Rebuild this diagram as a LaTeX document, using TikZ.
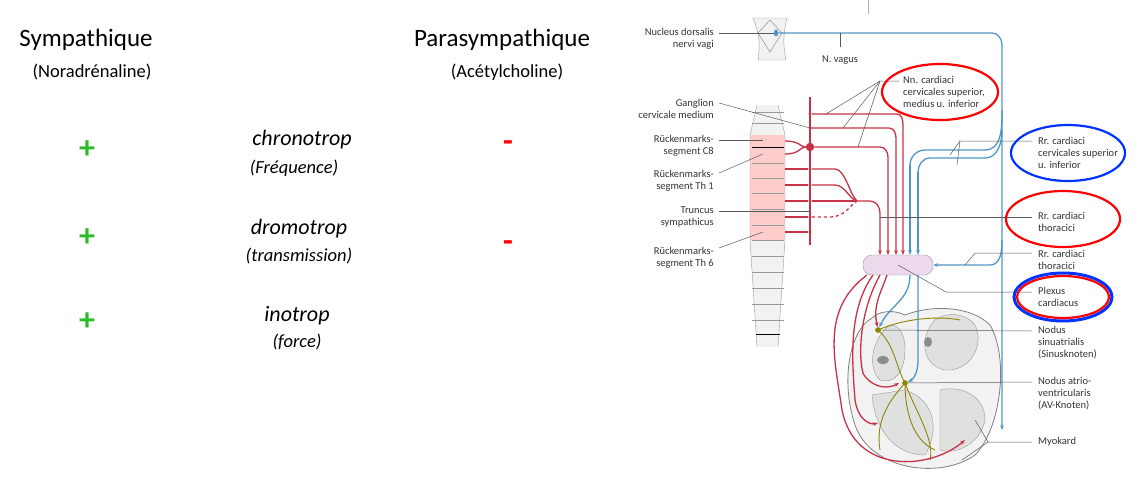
\documentclass[tikz,border=0pt]{standalone}
\usepackage{fontspec}
\setmainfont{Carlito}
\usetikzlibrary{arrows.meta,shapes.geometric}
\definecolor{symred}{RGB}{200,50,70}
\definecolor{vagblue}{RGB}{80,150,200}
\definecolor{plus}{RGB}{40,190,40}
\tikzset{
	symp/.style={draw=symred, line width=1.3pt},
	vag/.style={draw=vagblue, line width=1.3pt},
	lead/.style={draw=black!65, line width=0.5pt},
	lbl/.style={font=\fontsize{10.5}{12}\selectfont, text=black!80, align=left, anchor=west, inner sep=1pt},
	lbr/.style={font=\fontsize{10.5}{12}\selectfont, text=black!80, align=right, anchor=east, inner sep=1pt},
	ring/.style={line width=2.2pt, ellipse},
	title/.style={font=\fontsize{25}{28}\selectfont},
	sub/.style={font=\fontsize{18.5}{20}\selectfont},
	eff/.style={font=\fontsize{22}{26}\selectfont\itshape},
	effsub/.style={font=\fontsize{18.5}{20}\selectfont\itshape},
	plusmark/.style={text=plus, font=\fontsize{32}{32}\selectfont\bfseries},
	minusmark/.style={text=red, font=\fontsize{32}{32}\selectfont\bfseries},
	dot/.style={fill=symred, circle, inner sep=1.2pt},
}
\begin{document}
\begin{tikzpicture}[x=1pt, y=-1pt]
	\useasboundingbox (0,0) rectangle (1140,479);

	% left table
	\node[title] (symp) at (86,40) {Sympathique};
	\node[sub] (nora) at (92,72) {(Noradrénaline)};
	\node[title] (para) at (502,40) {Parasympathique};
	\node[sub] (acet) at (507,72) {(Acétylcholine)};

	\node[plusmark] (p1) at (87,150) {+};
	\node[plusmark] (p2) at (87,238) {+};
	\node[plusmark] (p3) at (87,322) {+};
	\node[minusmark] (m1) at (508,146) {-};
	\node[minusmark] (m2) at (508,246) {-};

	\node[eff] (chrono) at (302,140) {chronotrop};
	\node[effsub] (freq) at (294,168) {(Fréquence)};
	\node[eff] (dromo) at (299,229) {dromotrop};
	\node[effsub] (trans) at (299,256) {(transmission)};
	\node[eff] (ino) at (297,316) {inotrop};
	\node[effsub] (force) at (297,342) {(force)};

	\draw[black!30] (868,0) -- (868,14);

	% brain stem
	\draw[black!40, fill=black!5] (753,18) -- (787,18) .. controls (783,35) and (783,45) .. (786,60)
		-- (758,60) .. controls (760,45) and (760,35) .. (753,18);
	\draw[black!50] (770,20) -- (782,33) -- (770,52) -- (758,33) -- cycle;
	\node[fill=vagblue, ellipse, inner xsep=1.5pt, inner ysep=2.5pt] (nuc) at (776,33) {};

	% spinal cord
	\fill[black!5] (757,105) -- (778,105) -- (785,135) -- (785,240) -- (778,347) -- (757,347) -- (750,240) -- (750,135) -- cycle;
	\fill[red!20] (750,135) rectangle (785,240);
	\draw[black!40] (757,105) -- (750,135) -- (750,240) -- (757,347);
	\draw[black!40] (778,105) -- (785,135) -- (785,240) -- (778,347);
	\foreach \y in {112,123,163,178,193,209,225,240,256,272,288,304,320}
		\draw[black!40] (752,\y) -- (784,\y);
	\draw[black, line width=0.8pt] (752,147) -- (784,147);
	\draw[black, line width=0.8pt] (756,334) -- (780,334);

	% sympathetic trunk
	\draw[symp] (810,97) -- (810,245);
	\node[dot, inner sep=3pt] (gang) at (810,147) {};
	\foreach \y in {114,128,169,185,201,217,232}
		\node[dot] (t\y) at (810,\y) {};
	\draw[symp] (785,141) .. controls (800,141) and (800,147) .. (gang);
	\draw[symp] (785,154) .. controls (800,154) and (800,147) .. (gang);
	\foreach \y in {169,185,201,217,232}
		\draw[symp] (785,\y) -- (t\y);
	\coordinate (knot) at (857,201);
	\draw[symp] (t169) -- (835,169) .. controls (845,169) and (850,195) .. (knot);
	\draw[symp] (t185) -- (835,185) .. controls (845,185) and (850,200) .. (knot);
	\draw[symp] (t201) -- (knot);
	\draw[symp, dashed] (t217) -- (830,217) .. controls (845,217) and (850,205) .. (knot);

	% plexus
	\node[draw=black!40, fill=violet!15, rounded corners=9pt, minimum width=70pt, minimum height=20pt] (plex) at (898,265) {};

	\draw[symp, -{Stealth[length=5pt]}] (t114) -- (897,114) to[out=0, in=90] (903,125) -- (903,255);
	\draw[symp, -{Stealth[length=5pt]}] (810,128) -- (889,128) to[out=0, in=90] (896,138) -- (896,255);
	\draw[symp, -{Stealth[length=5pt]}] (gang) -- (880,147) to[out=0, in=90] (888,157) -- (888,255);
	\draw[symp, -{Stealth[length=5pt]}] (knot) -- (870,201) to[out=0, in=90] (880,213) -- (880,255);

	% vagus
	\draw[vag, -{Stealth[length=5pt]}] (nuc) -- (992,33) to[out=0, in=90] (1002,45) -- (1002,430);
	\draw[vag] (1002,110) to[out=-90, in=0] (985,150) -- (925,150) to[out=180, in=90] (910,165);
	\draw[vag, -{Stealth[length=5pt]}] (910,165) -- (910,255);
	\draw[vag] (1002,130) to[out=-90, in=0] (985,158) -- (930,158) to[out=180, in=90] (918,172);
	\draw[vag, -{Stealth[length=5pt]}] (918,172) -- (918,255);
	\draw[vag, -{Stealth[length=5pt]}] (1002,240) to[out=-90, in=0] (990,265) -- (plex.east);

	% heart
	\draw[black!50, fill=black!5, line width=0.8pt] (872,318) .. controls (850,330) and (840,380) .. (855,425)
		.. controls (870,470) and (940,480) .. (975,455) .. controls (1000,430) and (1010,360) .. (990,325)
		.. controls (970,305) and (930,305) .. (905,315) .. controls (895,310) and (880,310) .. (872,318) -- cycle;
	\draw[black!40, fill=black!12] (890,325) .. controls (870,340) and (868,370) .. (880,380) .. controls (895,385) and (905,370) .. (905,350) .. controls (905,335) and (900,325) .. (890,325);
	\draw[black!40, fill=black!12] (935,320) .. controls (920,335) and (920,365) .. (945,370) .. controls (970,372) and (985,345) .. (975,325) .. controls (965,312) and (945,312) .. (935,320);
	\draw[black!40, fill=black!12] (872,395) .. controls (875,430) and (895,455) .. (925,455) .. controls (940,430) and (935,400) .. (905,390) -- cycle;
	\draw[black!40, fill=black!12] (940,390) .. controls (960,385) and (985,395) .. (985,420) .. controls (980,445) and (955,455) .. (940,450) -- cycle;
	\fill[black!45] (883,360) ellipse (6pt and 4pt);
	\fill[black!45] (928,342) ellipse (4pt and 5pt);
	\draw[olive, line width=0.9pt] (878,330) .. controls (895,345) and (895,365) .. (905,383);
	\draw[olive, line width=0.9pt] (878,330) .. controls (900,320) and (935,315) .. (960,320);
	\draw[olive, line width=0.9pt] (905,383) .. controls (915,410) and (935,440) .. (930,460);
	\draw[olive, line width=0.9pt] (905,383) .. controls (905,410) and (912,440) .. (935,450);
	\draw[olive, line width=0.9pt] (905,383) .. controls (890,400) and (875,420) .. (880,450);
	\node[fill=olive, circle, inner sep=2pt] (sa) at (878,330) {};
	\node[fill=olive, circle, inner sep=2pt] (av) at (905,383) {};

	\draw[symp, -{Stealth[length=5pt]}] (867,275) .. controls (820,310) and (835,360) .. (842,410)
		.. controls (855,475) and (930,470) .. (965,440);
	\draw[symp, -{Stealth[length=5pt]}] (873,275) .. controls (848,310) and (852,360) .. (855,400)
		.. controls (858,420) and (870,425) .. (878,423);
	\draw[symp, -{Stealth[length=5pt]}] (880,275) .. controls (855,320) and (860,370) .. (864,375)
		.. controls (875,390) and (890,388) .. (899,383);
	\draw[symp, -{Stealth[length=5pt]}] (887,275) .. controls (880,295) and (873,305) .. (sa);
	\draw[vag, -{Stealth[length=5pt]}] (910,275) .. controls (910,300) and (890,305) .. (sa);
	\draw[vag, -{Stealth[length=5pt]}] (918,275) -- (918,360) .. controls (918,375) and (912,380) .. (av);

	% left labels
	\node[lbr] (lnuc) at (715,39) {Nucleus dorsalis\\nervi vagi};
	\node[lbr] (lgang) at (715,109) {Ganglion\\cervicale medium};
	\node[lbr] (lc8) at (715,146) {Rückenmarks-\\segment C8};
	\node[lbr] (lth1) at (715,181) {Rückenmarks-\\segment Th 1};
	\node[lbr] (ltr) at (715,217) {Truncus\\sympathicus};
	\node[lbr] (lth6) at (715,258) {Rückenmarks-\\segment Th 6};
	\draw[lead] (719,33) -- (nuc);
	\draw[lead] (719,103) -- (810,128);
	\draw[lead] (719,140) -- (763,140);
	\draw[lead] (719,173) -- (763,154);
	\draw[lead] (719,211) -- (810,211);
	\draw[lead] (719,248) -- (763,232);
	\node[lbl, anchor=north] (lvag) at (840,55) {N. vagus};
	\draw[lead] (840,33) -- (840,47);

	% right labels
	\node[lbl] (lnn) at (902,92) {Nn. cardiaci\\cervicales superior,\\medius u. inferior};
	\node[lbl] (lrc) at (1037,153) {Rr. cardiaci\\cervicales superior\\u. inferior};
	\node[lbl] (lrt) at (1037,222) {Rr. cardiaci\\thoracici};
	\node[lbl] (lrt2) at (1037,260) {Rr. cardiaci\\thoracici};
	\node[lbl] (lplex) at (1037,297) {Plexus\\cardiacus};
	\node[lbl] (lsa) at (1037,343) {Nodus\\sinuatrialis\\(Sinusknoten)};
	\node[lbl] (lav) at (1037,394) {Nodus atrio-\\ventricularis\\(AV-Knoten)};
	\node[lbl] (lmyo) at (1037,442) {Myokard};

	\draw[lead] (899,81) -- (880,81) -- (826,114);
	\draw[lead] (880,81) -- (843,128);
	\draw[lead] (880,81) -- (858,147);
	\draw[lead] (1032,141) -- (960,141) -- (950,155);
	\draw[lead] (960,141) -- (957,165);
	\draw[lead] (1032,217) -- (880,217);
	\draw[lead] (1032,253) -- (975,253) -- (965,265);
	\draw[lead] (1032,292) -- (946,292) -- (plex.center);
	\draw[lead] (1032,331) -- (sa);
	\draw[lead] (1032,382) -- (av);
	\draw[lead] (1032,442) -- (988,442) -- (975,420);
	\draw[lead] (988,442) -- (962,460);

	% highlight rings
	\node[draw=red, ring, minimum width=116pt, minimum height=56pt] (e1) at (940,92) {};
	\node[draw=blue!80!cyan, ring, minimum width=114pt, minimum height=56pt] (e2) at (1068,153) {};
	\node[draw=red, ring, minimum width=114pt, minimum height=56pt] (e3) at (1063,219) {};
	\node[draw=blue!80!cyan, ring, line width=3pt, minimum width=98pt, minimum height=48pt] (e4) at (1063,297) {};
	\node[draw=red, ring, minimum width=92pt, minimum height=42pt] (e5) at (1063,297) {};
\end{tikzpicture}
\end{document}
